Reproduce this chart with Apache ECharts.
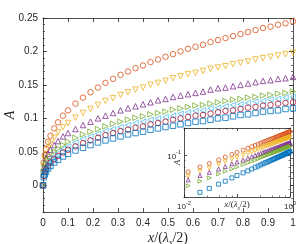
<!DOCTYPE html>
<html><head><meta charset="utf-8">
<script src="https://cdn.jsdelivr.net/npm/echarts@6/dist/echarts.min.js"></script>
<style>html,body{margin:0;padding:0;background:#fff}#c{width:296px;height:244px}</style>
</head><body><div id="c"></div>
<script>
const xVals = [0,0.003,0.007,0.012,0.02,0.03,0.045,0.06,0.08,0.1,0.13,0.16,0.19,0.22,0.25,0.28,0.31,0.34,0.37,0.40,0.43,0.46,0.49,0.52,0.55,0.58,0.61,0.64,0.67,0.70,0.73,0.76,0.79,0.82,0.85,0.88,0.91,0.94,0.97,1.0];
const aOrange = [0,0.034,0.045,0.054,0.065,0.074,0.085,0.094,0.104,0.112,0.122,0.131,0.139,0.146,0.153,0.159,0.165,0.170,0.175,0.179,0.184,0.188,0.192,0.196,0.200,0.204,0.207,0.210,0.214,0.217,0.220,0.223,0.226,0.229,0.232,0.235,0.237,0.240,0.242,0.245];
const aYellow = [0,0.029,0.039,0.046,0.055,0.062,0.071,0.079,0.087,0.093,0.101,0.108,0.114,0.120,0.126,0.130,0.135,0.139,0.143,0.146,0.150,0.153,0.156,0.160,0.163,0.166,0.168,0.171,0.174,0.176,0.178,0.181,0.183,0.185,0.188,0.190,0.192,0.194,0.196,0.198];
const aPurple = [0,0.026,0.033,0.040,0.047,0.053,0.060,0.066,0.073,0.078,0.084,0.090,0.095,0.100,0.104,0.108,0.112,0.115,0.118,0.121,0.124,0.127,0.129,0.132,0.134,0.136,0.138,0.140,0.143,0.145,0.146,0.148,0.150,0.152,0.154,0.156,0.157,0.159,0.160,0.162];
const aGreen = [0,0.020,0.027,0.032,0.038,0.043,0.050,0.055,0.060,0.065,0.071,0.076,0.080,0.084,0.088,0.092,0.095,0.098,0.101,0.103,0.106,0.108,0.110,0.113,0.115,0.117,0.119,0.120,0.122,0.124,0.126,0.128,0.129,0.131,0.132,0.134,0.135,0.137,0.138,0.140];
const aCyan = [0,0.017,0.022,0.027,0.033,0.038,0.043,0.048,0.054,0.058,0.064,0.069,0.073,0.077,0.081,0.084,0.087,0.090,0.093,0.095,0.098,0.100,0.102,0.104,0.107,0.109,0.111,0.112,0.115,0.116,0.118,0.120,0.121,0.123,0.125,0.126,0.128,0.129,0.131,0.132];
const aRed = [0,0.014,0.020,0.024,0.029,0.034,0.039,0.044,0.049,0.053,0.058,0.063,0.067,0.071,0.075,0.078,0.081,0.083,0.086,0.088,0.091,0.093,0.095,0.098,0.100,0.102,0.104,0.105,0.107,0.109,0.111,0.112,0.114,0.116,0.117,0.119,0.120,0.122,0.123,0.124];
const aBlue = [0,0.012,0.016,0.020,0.025,0.029,0.034,0.038,0.043,0.047,0.052,0.056,0.060,0.064,0.067,0.070,0.073,0.076,0.078,0.080,0.083,0.085,0.087,0.089,0.091,0.093,0.095,0.096,0.098,0.100,0.101,0.103,0.105,0.106,0.108,0.110,0.111,0.112,0.114,0.115];
const yMajorTicks = [0,0.05,0.1,0.15,0.2,0.25];

const AX = '#262626';
const COL = {blue:'#0072BD', orange:'#D95319', yellow:'#EDB120', purple:'#7E2F8E', green:'#77AC30', cyan:'#4DBEEE', red:'#A2142F'};
const defs = [
  {data:aOrange, color:COL.orange, symbol:'circle', rot:0, inset:true},
  {data:aYellow, color:COL.yellow, symbol:'triangle', rot:180, inset:true},
  {data:aPurple, color:COL.purple, symbol:'triangle', rot:0, inset:true},
  {data:aGreen, color:COL.green, symbol:'triangle', rot:-90, inset:true},
  {data:aCyan, color:COL.cyan, symbol:'triangle', rot:90, inset:false},
  {data:aRed, color:COL.red, symbol:'circle', rot:0, inset:false},
  {data:aBlue, color:COL.blue, symbol:'rect', rot:0, inset:true}
];
const series = [];
defs.forEach(d => {
  series.push({type:'scatter', xAxisIndex:0, yAxisIndex:0, z:2,
    data: xVals.map((x,i)=>[x,d.data[i]]),
    symbol:d.symbol, symbolRotate:d.rot, symbolSize:5.5,
    itemStyle:{color:'rgba(0,0,0,0)', borderColor:d.color, borderWidth:1},
    silent:true, animation:false});
});
defs.filter(d=>d.inset).forEach(d => {
  series.push({type:'scatter', xAxisIndex:2, yAxisIndex:4, z:12,
    data: xVals.map((x,i)=>[x,d.data[i]]).filter(p=>p[0]>=0.01),
    symbol:d.symbol, symbolRotate:d.rot, symbolSize:4,
    itemStyle:{color:'rgba(0,0,0,0)', borderColor:d.color, borderWidth:1},
    silent:true, animation:false});
});

const line = {show:true, onZero:false, lineStyle:{color:AX, width:0.8}};
const serif = 'Liberation Serif';
const nameRich = (fs) => ({
  i:{fontFamily:serif, fontStyle:'italic', fontSize:fs, color:AX, lineHeight:fs+4, verticalAlign:'middle'},
  r:{fontFamily:serif, fontSize:fs, color:AX, lineHeight:fs+4, verticalAlign:'middle'},
  sub:{fontFamily:serif, fontStyle:'italic', fontSize:Math.round(fs*0.65), color:AX, lineHeight:Math.round(fs*0.65), verticalAlign:'bottom'}
});
const supRich = {
  n:{fontFamily:'Liberation Sans', fontSize:8, color:AX, lineHeight:11, verticalAlign:'bottom'},
  s:{fontFamily:'Liberation Sans', fontSize:5.5, color:AX, lineHeight:6, verticalAlign:'top'}
};
const xName = '{i|x}{r|/(}{i|λ}{sub|s}{r|/2)}';
const noLine = {show:false, onZero:false};

const option = {
  animation:false,
  backgroundColor:'#fff',
  grid:[
    {left:43, right:3, top:18, bottom:32, containLabel:false, outerBoundsMode:'none'},
    {left:184, top:128, width:106, height:69, show:true, backgroundColor:'#fff', borderWidth:0, z:10, containLabel:false, outerBoundsMode:'none'}
  ],
  xAxis:[
    {gridIndex:0, type:'value', min:0, max:1, interval:0.1, position:'bottom',
     axisLine:line, axisTick:{show:true, inside:true, length:4, lineStyle:{color:AX, width:0.8}},
     axisLabel:{fontFamily:'Liberation Sans', fontSize:10, color:AX, margin:6, formatter:v=>String(Math.round(v*10)/10)},
     splitLine:{show:false},
     name:xName, nameLocation:'middle', nameGap:17, nameMoveOverlap:false, nameTextStyle:{rich:nameRich(14)}},
    {gridIndex:0, type:'value', min:0, max:1, interval:0.1, position:'top',
     axisLine:line, axisTick:{show:true, inside:true, length:4, lineStyle:{color:AX, width:0.8}},
     axisLabel:{show:false}, splitLine:{show:false}},
    {gridIndex:1, type:'log', logBase:10, min:0.01, max:1, position:'bottom', z:11,
     axisLine:line, axisTick:{show:true, inside:true, length:3, lineStyle:{color:AX, width:0.8}},
     minorTick:{show:true, splitNumber:5, length:1.5, lineStyle:{color:AX, width:0.6}},
     axisLabel:{margin:3, rich:supRich, formatter:v=>{
       if (Math.abs(v-0.01)<1e-9) return '{n|10}{s|-2}';
       if (Math.abs(v-1)<1e-9) return '{n|10}{s|0}';
       return '';}},
     splitLine:{show:false},
     name:xName, nameLocation:'middle', nameGap:1, nameMoveOverlap:false, nameTextStyle:{rich:nameRich(9)}},
    {gridIndex:1, type:'log', logBase:10, min:0.01, max:1, position:'top', z:11,
     axisLine:line, axisTick:{show:true, inside:true, length:3, lineStyle:{color:AX, width:0.8}},
     minorTick:{show:true, splitNumber:5, length:1.5, lineStyle:{color:AX, width:0.6}},
     axisLabel:{show:false}, splitLine:{show:false}}
  ],
  yAxis:[
    {gridIndex:0, type:'value', min:-0.04, max:0.25, position:'left',
     axisLine:line, axisTick:{show:true, inside:true, length:4, customValues:yMajorTicks, lineStyle:{color:AX, width:0.8}},
     axisLabel:{fontFamily:'Liberation Sans', fontSize:10, color:AX, margin:5, customValues:yMajorTicks, formatter:v=>String(Math.round(v*100)/100)},
     splitLine:{show:false},
     name:'A', nameLocation:'middle', nameGap:26, nameRotate:90, nameMoveOverlap:false,
     nameTextStyle:{fontFamily:serif, fontStyle:'italic', fontSize:14, color:AX}},
    {gridIndex:0, type:'value', min:-0.04, max:0.25, position:'right',
     axisLine:line, axisTick:{show:true, inside:true, length:4, customValues:yMajorTicks, lineStyle:{color:AX, width:0.8}},
     axisLabel:{show:false}, splitLine:{show:false}},
    {gridIndex:0, type:'value', min:-0.04, max:0.25, interval:0.01, position:'left',
     axisLine:noLine, axisTick:{show:true, inside:true, length:2, lineStyle:{color:AX, width:0.7}},
     axisLabel:{show:false}, splitLine:{show:false}},
    {gridIndex:0, type:'value', min:-0.04, max:0.25, interval:0.01, position:'right',
     axisLine:noLine, axisTick:{show:true, inside:true, length:2, lineStyle:{color:AX, width:0.7}},
     axisLabel:{show:false}, splitLine:{show:false}},
    {gridIndex:1, type:'log', logBase:10, min:0.021, max:0.28, position:'left', z:11,
     axisLine:line, axisTick:{show:true, inside:true, length:3, lineStyle:{color:AX, width:0.8}},
     minorTick:{show:true, splitNumber:5, length:1.5, lineStyle:{color:AX, width:0.6}},
     axisLabel:{margin:3, rich:supRich, formatter:v=>(Math.abs(v-0.1)<1e-9 ? '{n|10}{s|-1}' : '')},
     splitLine:{show:false},
     name:'A', nameLocation:'middle', nameGap:2, nameRotate:90, nameMoveOverlap:false,
     nameTextStyle:{fontFamily:serif, fontStyle:'italic', fontSize:9, color:AX}},
    {gridIndex:1, type:'log', logBase:10, min:0.021, max:0.28, position:'right', z:11,
     axisLine:line, axisTick:{show:true, inside:true, length:3, lineStyle:{color:AX, width:0.8}},
     minorTick:{show:true, splitNumber:5, length:1.5, lineStyle:{color:AX, width:0.6}},
     axisLabel:{show:false}, splitLine:{show:false}}
  ],
  series: series
};
const chart = echarts.init(document.getElementById('c'), null, {renderer:'canvas'});
chart.setOption(option);
</script>
</body></html>
